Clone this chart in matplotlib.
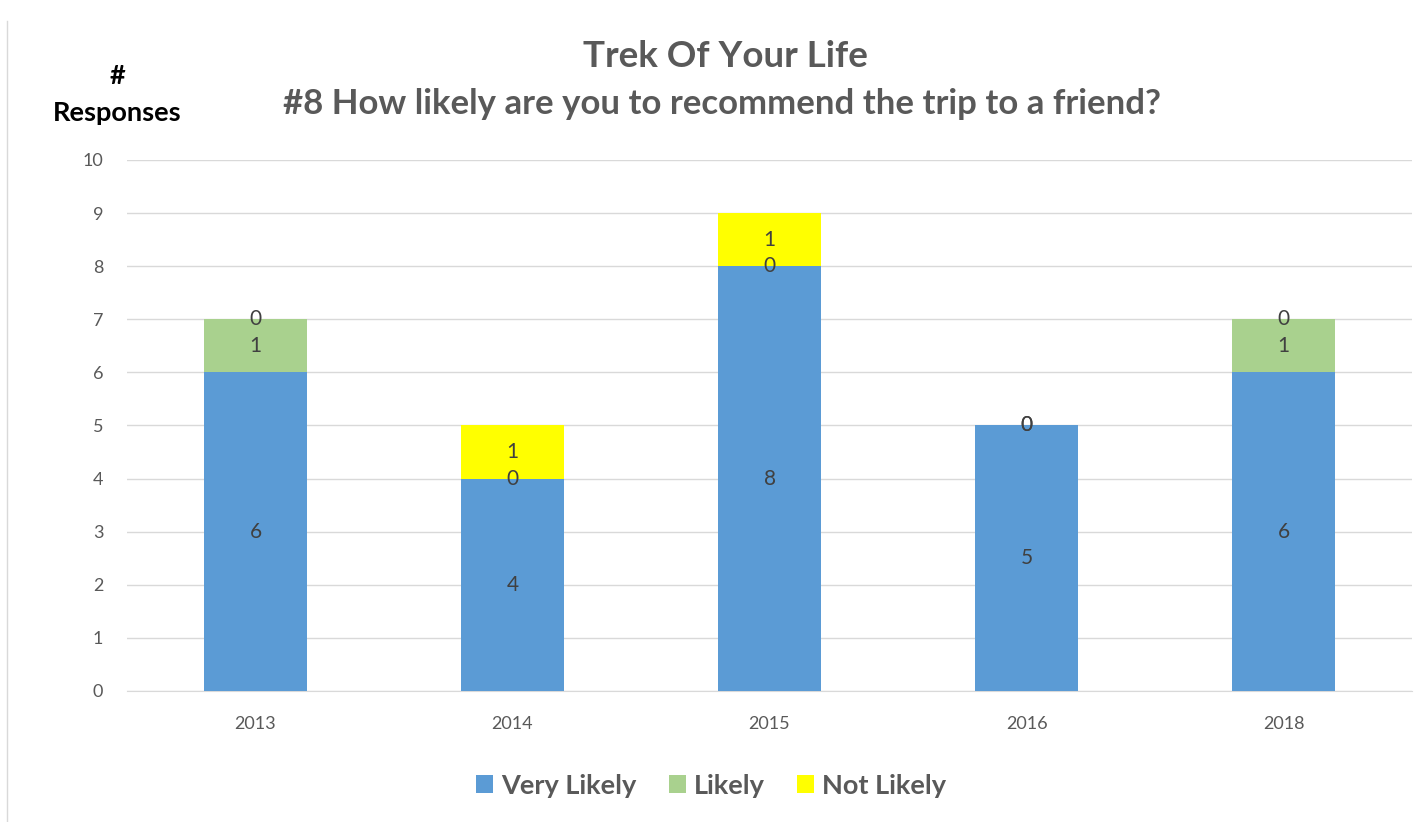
import matplotlib.pyplot as plt
import numpy as np

plt.rcParams['font.family'] = ['Lato', 'DejaVu Sans']

years = ['2013', '2014', '2015', '2016', '2018']
very_likely = [6, 4, 8, 5, 6]
likely = [1, 0, 0, 0, 1]
not_likely = [0, 1, 1, 0, 0]
series_names = ['Very Likely', 'Likely', 'Not Likely']
colors = ['#5b9bd5', '#a9d18e', '#ffff00']

fig = plt.figure(figsize=(14.22, 8.22), dpi=100)
ax = fig.add_axes([0.0893, 0.1594, 0.9037, 0.646])

x = np.arange(len(years))
bottom = np.zeros(len(years))
for vals, name, col in zip([very_likely, likely, not_likely], series_names, colors):
    vals = np.array(vals, dtype=float)
    ax.bar(x, vals, 0.4, bottom=bottom, color=col, label=name, zorder=3)
    for xi, b, v in zip(x, bottom, vals):
        ax.text(xi, b + v / 2, f'{int(v)}', ha='center', va='center',
                fontsize=15, color='#404040', zorder=4)
    bottom += vals

ax.set_xlim(-0.5, len(years) - 0.5)
ax.set_ylim(0, 10)
ax.set_yticks(range(0, 11))
ax.set_xticks(x)
ax.set_xticklabels(years)
ax.tick_params(axis='both', length=0, labelsize=13, labelcolor='#595959')
ax.tick_params(axis='y', pad=17)
ax.tick_params(axis='x', pad=18)
ax.grid(axis='y', color='#d9d9d9', linewidth=1, zorder=0)
for s in ['top', 'right', 'left']:
    ax.spines[s].set_visible(False)
ax.spines['bottom'].set_color('#d9d9d9')

fig.text(0.51, 0.931, 'Trek Of Your Life', ha='center', va='center',
         fontsize=26.5, fontweight='bold', color='#595959')
fig.text(0.508, 0.874, '#8 How likely are you to recommend the trip to a friend?',
         ha='center', va='center', fontsize=25, fontweight='bold', color='#595959')
fig.text(0.0823, 0.907, '#', ha='center', va='center', fontsize=19.5,
         fontweight='bold', color='black')
fig.text(0.0823, 0.863, 'Responses', ha='center', va='center', fontsize=19.5,
         fontweight='bold', color='black')

fig.add_artist(plt.Line2D([0.005, 0.005], [0.0, 0.975], color='#d9d9d9',
                          linewidth=1, transform=fig.transFigure))

leg = fig.legend(loc='center', bbox_to_anchor=(0.5, 0.044), ncol=3, frameon=False,
                 fontsize=19.5, handlelength=0.63, handleheight=0.63,
                 columnspacing=1.2, handletextpad=0.3)
for t in leg.get_texts():
    t.set_color('#595959')
    t.set_fontweight('bold')

fig.savefig('out.png', dpi=100)
